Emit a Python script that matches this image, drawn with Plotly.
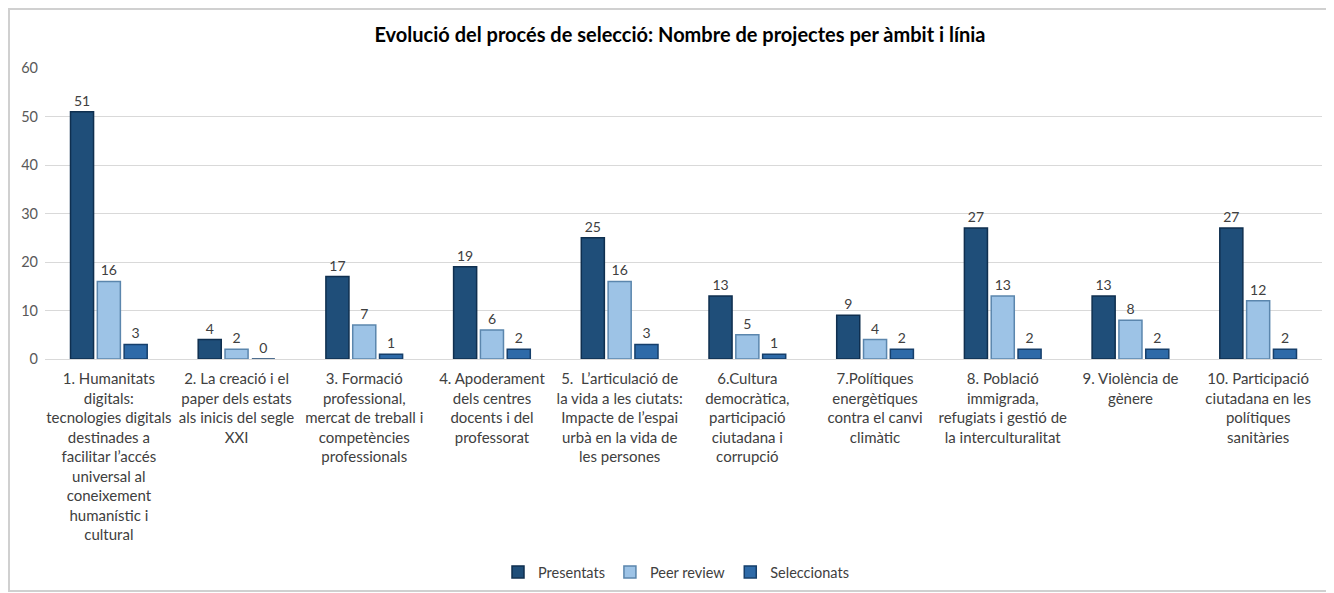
import plotly.graph_objects as go

categories = [
    "1. Humanitats<br>digitals:<br>tecnologies digitals<br>destinades a<br>facilitar l’accés<br>universal al<br>coneixement<br>humanístic i<br>cultural",
    "2. La creació i el<br>paper dels estats<br>als inicis del segle<br>XXI",
    "3. Formació<br>professional,<br>mercat de treball i<br>competències<br>professionals",
    "4. Apoderament<br>dels centres<br>docents i del<br>professorat",
    "5.  L’articulació de<br>la vida a les ciutats:<br>Impacte de l’espai<br>urbà en la vida de<br>les persones",
    "6.Cultura<br>democràtica,<br>participació<br>ciutadana i<br>corrupció",
    "7.Polítiques<br>energètiques<br>contra el canvi<br>climàtic",
    "8. Població<br>immigrada,<br>refugiats i gestió de<br>la interculturalitat",
    "9. Violència de<br>gènere",
    "10. Participació<br>ciutadana en les<br>polítiques<br>sanitàries",
]
presentats = [51, 4, 17, 19, 25, 13, 9, 27, 13, 27]
peer_review = [16, 2, 7, 6, 16, 5, 4, 13, 8, 12]
seleccionats = [3, 0, 1, 2, 3, 1, 2, 2, 2, 2]
y_ticks = [0, 10, 20, 30, 40, 50, 60]

FONT = "Lato, 'Open Sans', sans-serif"
x = list(range(len(categories)))

# page has an 8px body margin; figure starts at page (8, 8)
OFF = 8
W, H = 1326, 585
L, R, T, B = 45 - OFF, 12, 68 - OFF, 0
PH = 359 - 68
B = H - T - PH
PW = W - L - R

fig = go.Figure()
series = [
    ("Presentats", presentats, "#1f4e79", "#0f2f4f"),
    ("Peer review", peer_review, "#9dc3e6", "#5b86ad"),
    ("Seleccionats", seleccionats, "#2e6aa8", "#163f6b"),
]
for name, vals, col, edge in series:
    fig.add_trace(go.Bar(
        name=name, x=x, y=vals,
        marker=dict(color=col, line=dict(color=edge, width=1.5)),
        text=vals, textposition="outside", cliponaxis=False,
        textfont=dict(size=14, color="#404040", family=FONT),
    ))

fig.update_layout(
    width=W, height=H,
    margin=dict(l=L, r=R, t=T, b=B, autoexpand=False),
    paper_bgcolor="white", plot_bgcolor="white",
    barmode="group", bargap=0.37, bargroupgap=0.14,
    title=dict(text="<b>Evolució del procés de selecció: Nombre de projectes per àmbit i línia</b>",
               x=(680 - OFF) / W, xanchor="center", y=1 - (35 - OFF) / H, yanchor="middle",
               font=dict(size=20, color="black", family=FONT)),
    font=dict(family=FONT, color="#595959"),
    showlegend=True,
    legend=dict(orientation="h", x=(676 - 45) / PW, xanchor="center",
                y=-(572 - 359) / PH, yanchor="middle", bgcolor="rgba(0,0,0,0)",
                font=dict(size=14.5, color="#404040", family=FONT), traceorder="normal",
                itemwidth=30),
    xaxis=dict(tickmode="array", tickvals=x, ticktext=categories, tickangle=0,
               tickfont=dict(size=15, color="#404040", family=FONT),
               showgrid=False, showline=True, linecolor="#d9d9d9", linewidth=1,
               ticks="", ticklabelstandoff=6, range=[-0.5, len(categories) - 0.5], automargin=False),
    yaxis=dict(range=[0, 60], tickvals=y_ticks, showgrid=True, gridcolor="#d9d9d9",
               gridwidth=1, zeroline=False, showline=False,
               tickfont=dict(size=14.5, color="#595959", family=FONT), ticks="",
               ticklabelstandoff=6, automargin=False),
)

fig.add_shape(type="rect", xref="paper", yref="paper",
              x0=-(L - 1) / PW, x1=(W - 4 - L) / PW, y0=-(H - 2 - T - PH) / PH, y1=(T - 1) / PH + 1,
              line=dict(color="#d0d0d0", width=2), fillcolor="rgba(0,0,0,0)", layer="below")

fig.write_html("out.html")
